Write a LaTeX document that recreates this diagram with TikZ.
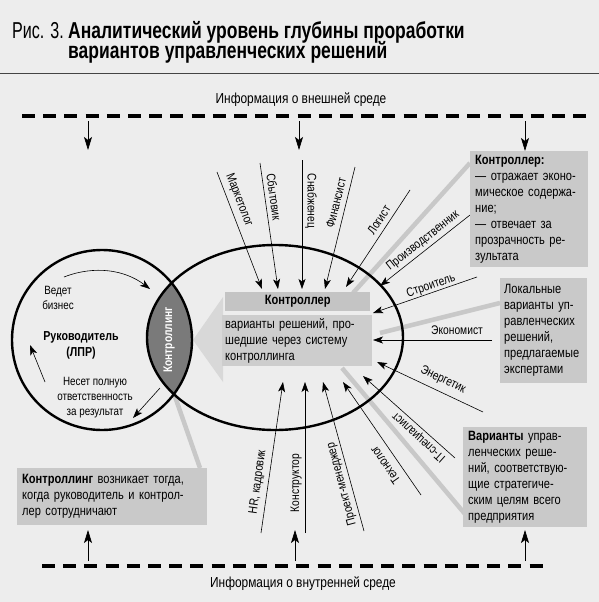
\documentclass[tikz,border=0pt]{standalone}
\usepackage{fontspec}
\setmainfont{Liberation Sans}[FakeStretch=0.82]
\newfontfamily\titlefont{Liberation Sans}[FakeStretch=0.76]
\newfontfamily\figfont{Liberation Sans}[FakeStretch=0.7]
\usetikzlibrary{arrows.meta}
\definecolor{bg}{HTML}{EDEDED}
\definecolor{boxgray}{HTML}{C9C9C9}
\definecolor{ctrlgray}{HTML}{C4C4C4}
\definecolor{headgray}{HTML}{D8D8D8}
\definecolor{bodygray}{HTML}{CDCDCD}
\definecolor{lensgray}{HTML}{7A7A7A}
\definecolor{callgray}{HTML}{C8C8C8}
\definecolor{rulegray}{HTML}{444444}
\begin{document}
\begin{tikzpicture}[x=1pt,y=-1pt,
  expert/.style={line width=0.6pt,-{Stealth[length=10pt,width=7pt,inset=2.5pt]}},
  infoarrow/.style={line width=0.7pt,-{Stealth[length=13pt,width=8pt,inset=3pt]}},
  lbl/.style={font=\fontsize{12.5}{14}\selectfont, inner sep=0pt},
  dashline/.style={line width=4pt, dash pattern=on 13pt off 8.2pt},
  infobox/.style={fill=boxgray, inner xsep=5pt, inner ysep=0pt, anchor=north west, align=left, font=\fontsize{13.5}{16}\selectfont},
  callout/.style={callgray, line width=4.5pt},
  outline/.style={line width=2.4pt},
  plain/.style={align=center, inner sep=0pt}
]
\useasboundingbox (0,0) rectangle (599,602);
\fill[bg] (0,0) rectangle (599,602);

% title
\node[anchor=base west, inner sep=0pt, font=\figfont\fontsize{23}{25}\selectfont] (fig) at (12,38) {Рис. 3.};
\node[anchor=base west, inner sep=0pt, font=\titlefont\bfseries\fontsize{23}{25}\selectfont] (title1) at (68,38) {Аналитический уровень глубины проработки};
\node[anchor=base west, inner sep=0pt, font=\titlefont\bfseries\fontsize{23}{25}\selectfont] (title2) at (68,59) {вариантов управленческих решений};
\draw[rulegray, line width=1pt] (0,73) -- (599,73);

% environment info
\node[plain, font=\fontsize{14.5}{16}\selectfont] (ext) at (301,100) {Информация о внешней среде};
\node[plain, font=\fontsize{14.5}{16}\selectfont] (int) at (303,584) {Информация о внутренней среде};
\draw[dashline] (22,116) -- (588,116);
\draw[dashline] (42,566) -- (550,566);

\coordinate (ta1) at (88,121);  \coordinate (ta1e) at (88,150);
\coordinate (ta2) at (299,121); \coordinate (ta2e) at (299,150);
\coordinate (ta3) at (525,121); \coordinate (ta3e) at (525,151);
\coordinate (ba1) at (88,561);  \coordinate (ba1e) at (88,530);
\coordinate (ba2) at (295,561); \coordinate (ba2e) at (295,530);
\coordinate (ba3) at (525,561); \coordinate (ba3e) at (525,530);
\foreach \a in {ta1,ta2,ta3,ba1,ba2,ba3} \draw[infoarrow] (\a) -- (\a e);

% callout lines
\coordinate (c1a) at (470,163); \coordinate (c1b) at (353,293);
\coordinate (c2a) at (500,303); \coordinate (c2b) at (380,333);
\coordinate (c3a) at (465,514); \coordinate (c3b) at (342,368);
\coordinate (c4a) at (200,468); \coordinate (c4b) at (172,388);
\foreach \c in {c1,c2,c3,c4} \draw[callout] (\c a) -- (\c b);

% lens
\begin{scope}
  \clip (102,340) circle[radius=90];
  \fill[lensgray] (275,337.5) ellipse[x radius=128, y radius=92.5];
\end{scope}

% big arrow
\fill[headgray] (193,340) -- (223,297) -- (223,382) -- cycle;
\node[fill=bodygray, anchor=north west, minimum width=150pt, minimum height=51pt, text width=144pt, inner xsep=3pt, inner ysep=0pt, align=left, font=\fontsize{13.5}{16}\selectfont] (vars) at (222,315) {варианты решений, про-\\шедшие через систему\\контроллинга};
\node[fill=ctrlgray, anchor=north west, minimum width=145pt, minimum height=19pt, inner sep=0pt, font=\bfseries\fontsize{13.5}{16}\selectfont] (ctrl) at (225,292) {Контроллер};

% outlines
\draw[outline] (102,340) circle[radius=90];
\draw[outline] (275,337.5) ellipse[x radius=128, y radius=92.5];
\node[rotate=90, text=white, inner sep=0pt, font=\bfseries\fontsize{12.5}{14}\selectfont] (lensl) at (169,340) {Контроллинг};

% left circle texts
\node[plain, font=\fontsize{12}{14.5}\selectfont] (vb) at (58,298) {Ведет\\бизнес};
\node[plain, font=\bfseries\fontsize{13}{16}\selectfont] (ruk) at (81,345) {Руководитель\\(ЛПР)};
\node[plain, font=\fontsize{12}{15}\selectfont] (nes) at (95,398) {Несет полную\\ответственность\\за результат};
\coordinate (v1) at (64,277); \coordinate (v2) at (150,289);
\draw[expert] (v1) .. controls (95,265) and (125,270) .. (v2);
\coordinate (r1) at (45,382); \coordinate (r2) at (30,345);
\draw[expert] (r1) -- (r2);
\coordinate (n1) at (160,388); \coordinate (n2) at (133,418);
\draw[expert] (n1) -- (n2);

% experts
\coordinate (e1) at (217,172); \coordinate (e1t) at (262,289);
\coordinate (e2) at (260,163); \coordinate (e2t) at (278,289);
\coordinate (e3) at (302,160); \coordinate (e3t) at (302,289);
\coordinate (e4) at (355,167); \coordinate (e4t) at (325,289);
\coordinate (e5) at (410,190); \coordinate (e5t) at (346,287);
\coordinate (e6) at (470,215); \coordinate (e6t) at (380,286);
\coordinate (e7) at (477,277); \coordinate (e7t) at (373,313);
\coordinate (e8) at (492,340); \coordinate (e8t) at (373,340);
\coordinate (e9) at (483,412); \coordinate (e9t) at (377,362);
\coordinate (e10) at (455,458); \coordinate (e10t) at (363,376);
\coordinate (e11) at (421,495); \coordinate (e11t) at (343,382);
\coordinate (e12) at (364,531); \coordinate (e12t) at (323,382);
\coordinate (e13) at (305,533); \coordinate (e13t) at (305,382);
\coordinate (e14) at (261,533); \coordinate (e14t) at (283,382);
\foreach \e in {e1,e2,e3,e4,e5,e6,e7,e8,e9,e10,e11,e12,e13,e14} \draw[expert] (\e) -- (\e t);

\node[lbl, rotate=-69] (l1) at (239,200) {Маркетолог};
\node[lbl, rotate=-82] (l2) at (274,197) {Сбытовик};
\node[lbl, rotate=-90] (l3) at (311,201) {Снабженец};
\node[lbl, rotate=76] (l4) at (336,203) {Финансист};
\node[lbl, rotate=57] (l5) at (379,220) {Логист};
\node[lbl, rotate=38] (l6) at (423,241) {Производственник};
\node[lbl, rotate=19] (l7) at (431,286) {Строитель};
\node[lbl] (l8) at (457,330) {Экономист};
\node[lbl, rotate=-25] (l9) at (443,380) {Энергетик};
\node[lbl, rotate=138] (l10) at (419,437) {IT-специалист};
\node[lbl, rotate=125] (l11) at (385,465) {Технолог};
\node[lbl, rotate=105] (l12) at (342,484) {Проект-менеджер};
\node[lbl, rotate=90] (l13) at (296,483) {Конструктор};
\node[lbl, rotate=82] (l14) at (258,482) {HR, кадровик};

% info boxes
\node[infobox, minimum width=118pt, minimum height=116pt, text width=108pt] (b1) at (470,151) {\textbf{Контроллер:}\\— отражает эконо-\\мическое содержа-\\ние;\\— отвечает за\\прозрачность ре-\\зультата};
\node[infobox, minimum width=87pt, minimum height=105pt, text width=79pt, inner xsep=4pt] (b2) at (500,278) {Локальные\\варианты уп-\\равленческих\\решений,\\предлагаемые\\экспертами};
\node[infobox, minimum width=124pt, minimum height=100pt, text width=114pt] (b3) at (463,427) {\textbf{Варианты} управ-\\ленческих реше-\\ний, соответствую-\\щие стратегиче-\\ским целям всего\\предприятия};
\node[infobox, minimum width=190pt, minimum height=57pt, text width=180pt] (b4) at (17,468) {\textbf{Контроллинг} возникает тогда,\\когда руководитель и контрол-\\лер сотрудничают};
\end{tikzpicture}
\end{document}
